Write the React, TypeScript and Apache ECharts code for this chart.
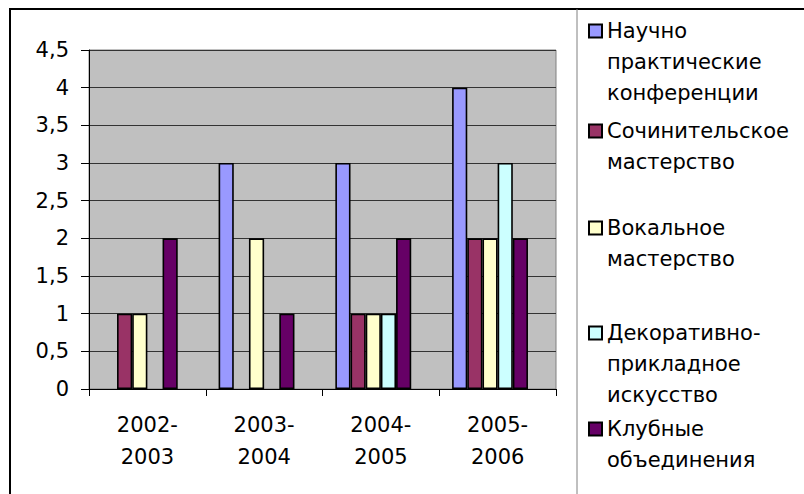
import React, { useEffect, useRef } from "react";
import * as echarts from "echarts";

const categories = ["2002-\n2003", "2003-\n2004", "2004-\n2005", "2005-\n2006"];
const seriesNames = [
  "Научно практические конференции",
  "Сочинительское мастерство",
  "Вокальное мастерство",
  "Декоративно-прикладное искусство",
  "Клубные объединения",
];
const legendLines = [
  ["Научно", "практические", "конференции"],
  ["Сочинительское", "мастерство"],
  ["Вокальное", "мастерство"],
  ["Декоративно-", "прикладное", "искусство"],
  ["Клубные", "объединения"],
];
const nauchno = [null, 3, 3, 4];
const sochinitel = [1, null, 1, 2];
const vokal = [1, 2, 1, 2];
const dekor = [null, null, 1, 3];
const klub = [2, 1, 2, 2];
const seriesValues = [nauchno, sochinitel, vokal, dekor, klub];
const colors = ["#9999FF", "#993366", "#FFFFCC", "#CCFFFF", "#660066"];
const legendCenters = [31, 131, 228, 333, 429];

const FONT = "DejaVu Sans";
const FS = 21;
const LH = 31;

export default function App() {
  const ref = useRef<HTMLDivElement>(null);
  useEffect(() => {
    if (!ref.current) return;
    const chart = echarts.init(ref.current, null, { renderer: "svg" });
    const series: any[] = seriesNames.map((name, i) => ({
      name,
      type: "bar",
      data: seriesValues[i].map((v) => (v === null ? "-" : v)),
      barGap: "0%",
      barCategoryGap: "22%",
      itemStyle: { color: colors[i], borderColor: "#000", borderWidth: 1.6 },
    }));
    series.push({
      name: "_empty",
      type: "bar",
      data: categories.map(() => "-"),
      barGap: "0%",
      barCategoryGap: "22%",
    });
    const legends = seriesNames.map((name, i) => {
      const lines = legendLines[i];
      const n = lines.length;
      return {
        data: [name],
        left: 588,
        top: legendCenters[i] - ((2 * n - 1) * LH) / 2,
        orient: "vertical",
        padding: 0,
        itemWidth: 13,
        itemHeight: 13,
        icon: "rect",
        selectedMode: false,
        formatter: () => "\n".repeat(n - 1) + lines.join("\n"),
        textStyle: { fontFamily: FONT, fontSize: FS, lineHeight: LH, color: "#000" },
      };
    });
    chart.setOption({
      animation: false,
      backgroundColor: "#fff",
      grid: {
        left: 89,
        top: 50,
        right: 248,
        bottom: 105,
        show: true,
        backgroundColor: "#C0C0C0",
        borderColor: "#808080",
        borderWidth: 1,
      },
      legend: legends,
      xAxis: {
        type: "category",
        data: categories,
        axisLine: { lineStyle: { color: "#000", width: 1 } },
        axisTick: { show: true, length: 7, lineStyle: { color: "#000" } },
        axisLabel: {
          margin: 20,
          fontFamily: FONT,
          fontSize: FS,
          lineHeight: 32,
          color: "#000",
        },
      },
      yAxis: {
        type: "value",
        min: 0,
        max: 4.5,
        interval: 0.5,
        axisLine: { show: true, lineStyle: { color: "#000", width: 1 } },
        axisTick: { show: true, length: 8, lineStyle: { color: "#000" } },
        splitLine: { show: true, lineStyle: { color: "#333", width: 1 } },
        axisLabel: {
          margin: 20,
          fontFamily: FONT,
          fontSize: FS,
          color: "#000",
          formatter: (v: number) => String(v).replace(".", ","),
        },
      },
      series,
      graphic: [
        {
          type: "rect",
          silent: true,
          z: 100,
          shape: { x: 10, y: 9, width: 900, height: 600 },
          style: { fill: "none", stroke: "#000", lineWidth: 2 },
        },
        {
          type: "line",
          silent: true,
          z: 100,
          shape: { x1: 577, y1: 9, x2: 577, y2: 494 },
          style: { stroke: "#808080", lineWidth: 1 },
        },
      ],
    });
    return () => chart.dispose();
  }, []);
  return (
    <div
      ref={ref}
      style={{ position: "fixed", left: 0, top: 0, width: 804, height: 494 }}
    />
  );
}
